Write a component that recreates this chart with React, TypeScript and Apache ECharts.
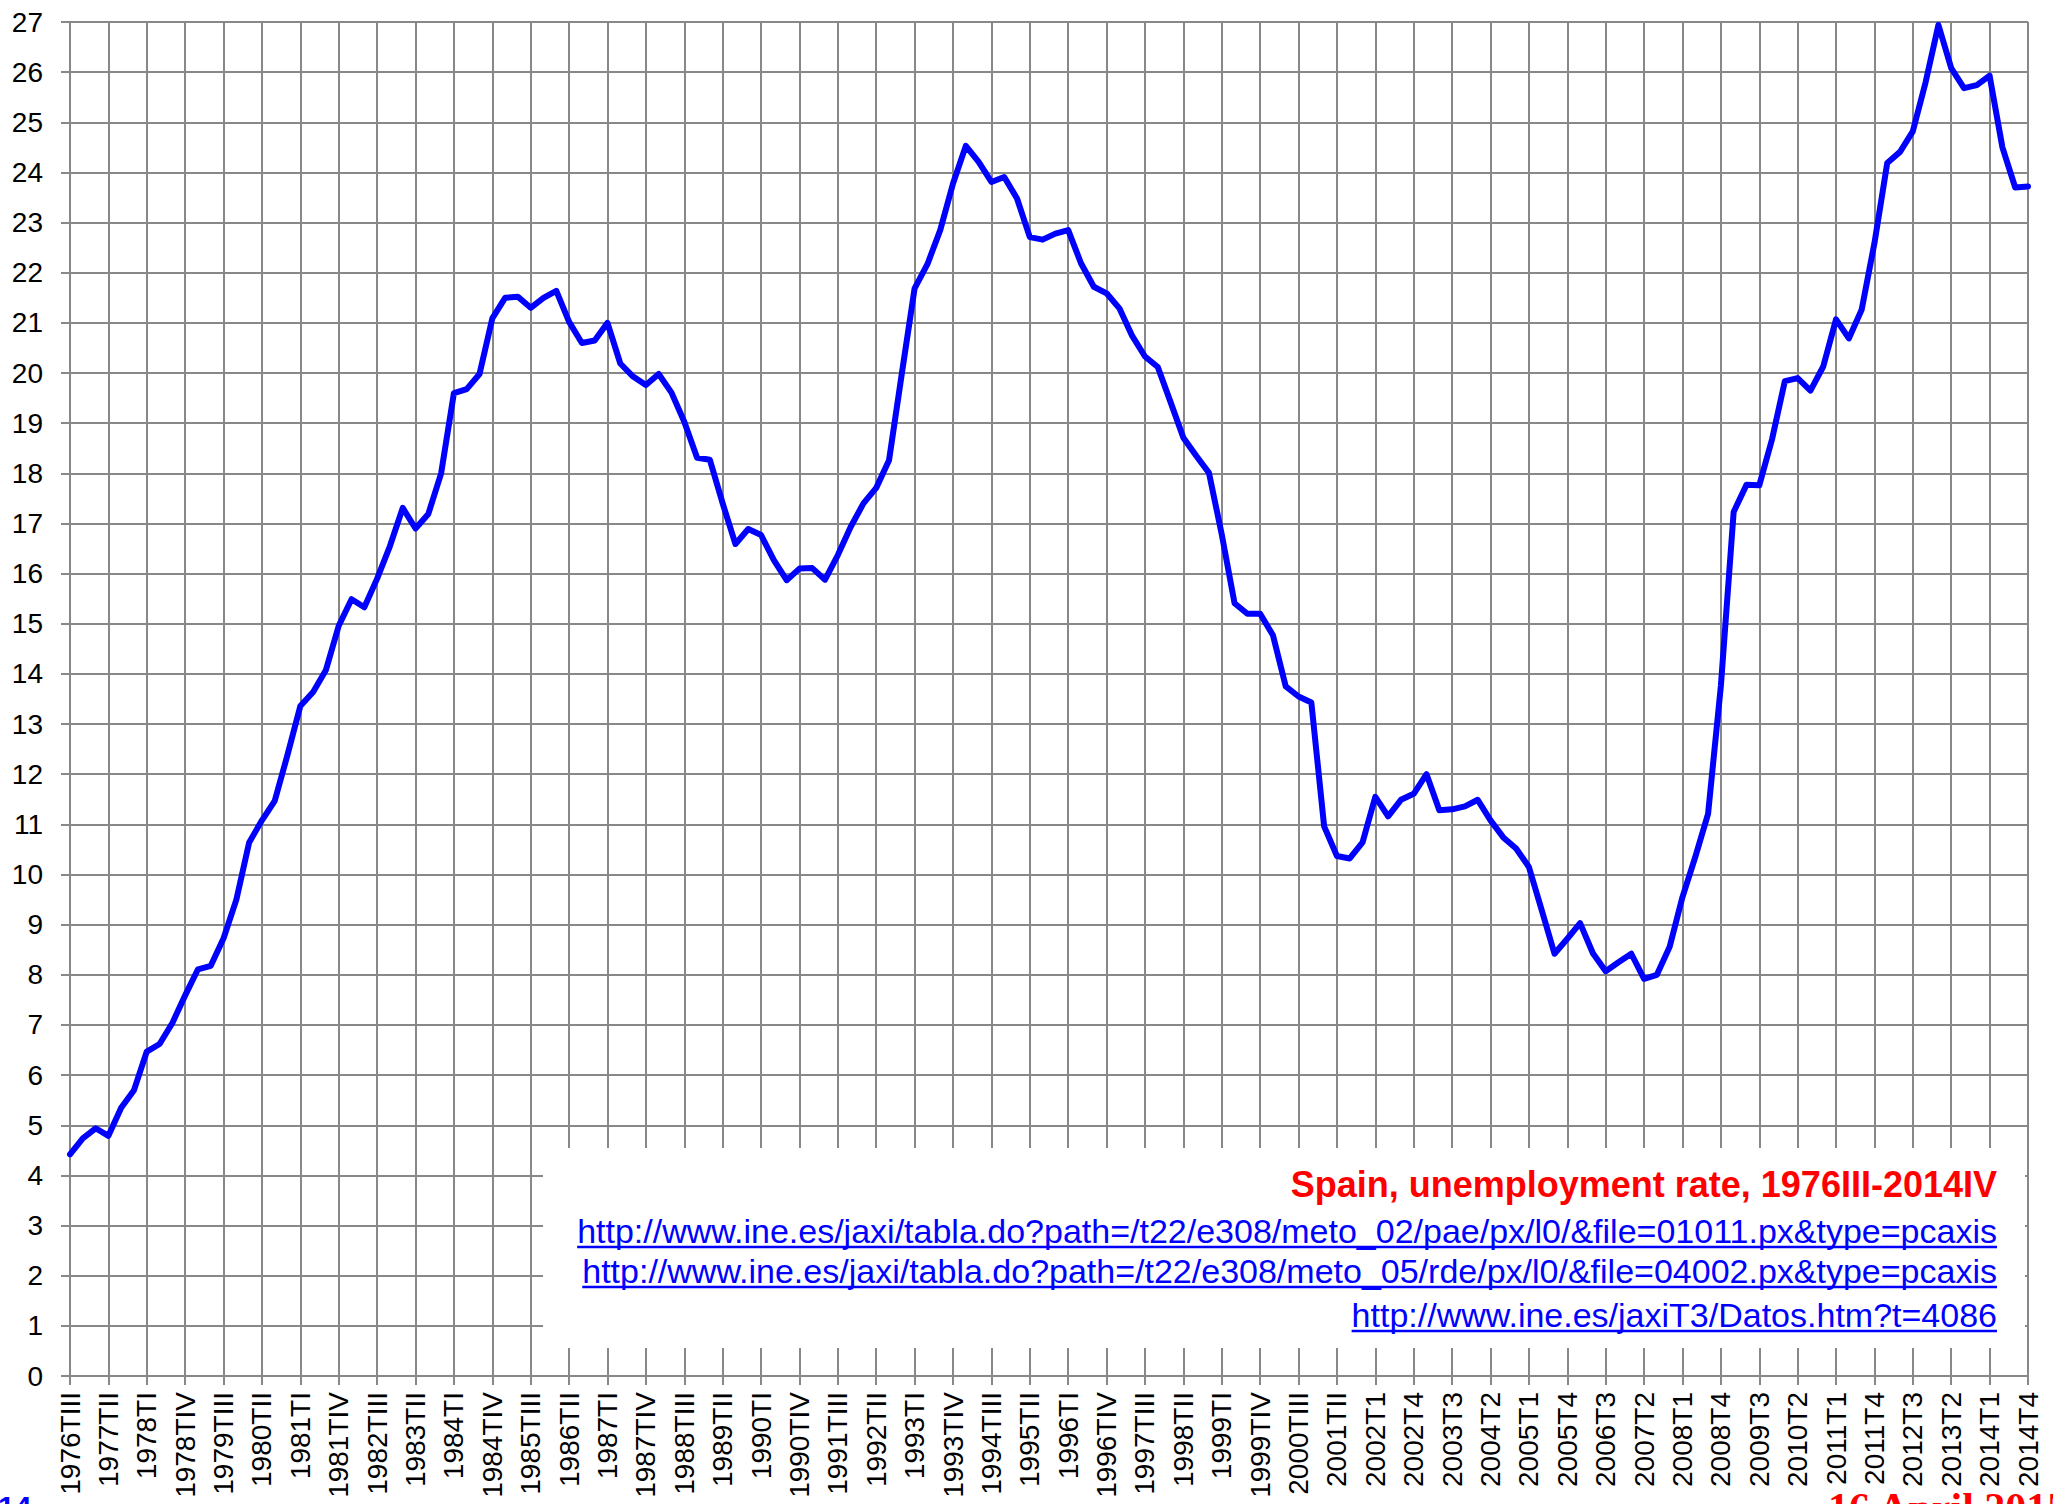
import React, { useEffect, useRef } from "react";
import * as echarts from "echarts";

// Quarterly unemployment rate (%), Spain, 1976 TIII – 2014 TIV
const firstYear = 1976;
const firstQuarter = 3;
const romanQuarters = ["I", "II", "III", "IV"];
const lastRomanYear = 2001;

const unemploymentRate: number[] = [
  // 1976 (TIII, TIV)
  4.42, 4.74,
  // 1977
  4.94, 4.79, 5.35, 5.70,
  // 1978
  6.47, 6.62, 7.04, 7.59,
  // 1979
  8.11, 8.18, 8.73, 9.50,
  // 1980
  10.64, 11.08, 11.47, 12.39,
  // 1981
  13.36, 13.64, 14.08, 14.96,
  // 1982
  15.49, 15.33, 15.90, 16.55,
  // 1983
  17.31, 16.90, 17.19, 18.00,
  // 1984
  19.60, 19.68, 19.98, 21.09,
  // 1985
  21.50, 21.52, 21.30, 21.50,
  // 1986
  21.64, 21.02, 20.60, 20.65,
  // 1987
  21.00, 20.19, 19.93, 19.76,
  // 1988
  19.98, 19.61, 19.03, 18.31,
  // 1989
  18.27, 17.40, 16.59, 16.89,
  // 1990
  16.77, 16.27, 15.87, 16.10,
  // 1991
  16.11, 15.88, 16.37, 16.93,
  // 1992
  17.40, 17.71, 18.26, 19.99,
  // 1993
  21.69, 22.17, 22.85, 23.78,
  // 1994
  24.53, 24.21, 23.81, 23.91,
  // 1995
  23.48, 22.71, 22.66, 22.78,
  // 1996
  22.85, 22.19, 21.72, 21.59,
  // 1997
  21.29, 20.74, 20.33, 20.12,
  // 1998
  19.42, 18.71, 18.35, 18.01,
  // 1999
  16.78, 15.41, 15.20, 15.20,
  // 2000
  14.77, 13.75, 13.55, 13.43,
  // 2001
  10.96, 10.37, 10.32, 10.64,
  // 2002
  11.55, 11.16, 11.49, 11.61,
  // 2003
  12.00, 11.28, 11.30, 11.36,
  // 2004
  11.49, 11.08, 10.74, 10.52,
  // 2005
  10.15, 9.29, 8.42, 8.72,
  // 2006
  9.03, 8.43, 8.07, 8.25,
  // 2007
  8.42, 7.92, 8.00, 8.56,
  // 2008
  9.55, 10.35, 11.21, 13.76,
  // 2009
  17.23, 17.77, 17.76, 18.68,
  // 2010
  19.84, 19.90, 19.65, 20.13,
  // 2011
  21.07, 20.69, 21.26, 22.59,
  // 2012
  24.19, 24.41, 24.82, 25.80,
  // 2013
  26.94, 26.08, 25.68, 25.74,
  // 2014
  25.93, 24.50, 23.70, 23.72,
];

// Category (tick) labels: Roman quarter numerals up to 2001, Arabic afterwards
const quarterLabels: string[] = unemploymentRate.map((_, i) => {
  const q0 = firstQuarter - 1 + i;
  const year = firstYear + Math.floor(q0 / 4);
  const q = q0 % 4;
  return year <= lastRomanYear ? `${year}T${romanQuarters[q]}` : `${year}T${q + 1}`;
});

const titleText = "Spain, unemployment rate, 1976III-2014IV";
const sourceLinks: string[] = [
  "http://www.ine.es/jaxi/tabla.do?path=/t22/e308/meto_02/pae/px/l0/&file=01011.px&type=pcaxis",
  "http://www.ine.es/jaxi/tabla.do?path=/t22/e308/meto_05/rde/px/l0/&file=04002.px&type=pcaxis",
  "http://www.ine.es/jaxiT3/Datos.htm?t=4086",
];
const dateText = "16 April 2015";
const pageText = "14";

const W = 2053;
const H = 1504;
const FONT = '"Liberation Sans", Arial, sans-serif';
const GRID_COLOR = "#888888";

function measure(text: string, font: string): number {
  const c = document.createElement("canvas");
  const ctx = c.getContext("2d");
  if (!ctx) return text.length * 16;
  ctx.font = font;
  return ctx.measureText(text).width;
}

export default function App() {
  const ref = useRef<HTMLDivElement>(null);

  useEffect(() => {
    if (!ref.current) return;
    const chart = echarts.init(ref.current, undefined, { renderer: "svg", width: W, height: H });

    const textRight = 1997;
    const linkFont = `34px ${FONT}`;
    const linkY = [1231, 1271, 1315];
    const underlineY = [1247, 1287, 1331];

    const linkGraphics: any[] = [];
    sourceLinks.forEach((t, i) => {
      const w = measure(t, linkFont);
      linkGraphics.push({
        type: "text",
        z: 110,
        x: textRight,
        y: linkY[i],
        style: { text: t, font: linkFont, fill: "#0000ff", align: "right", verticalAlign: "middle" },
      });
      linkGraphics.push({
        type: "line",
        z: 110,
        shape: { x1: textRight - w, y1: underlineY[i], x2: textRight, y2: underlineY[i] },
        style: { stroke: "#0000ff", lineWidth: 2.5 },
      });
    });

    chart.setOption({
      animation: false,
      backgroundColor: "#ffffff",
      grid: { left: 70, right: 25, top: 22, bottom: 128, containLabel: false },
      xAxis: {
        type: "category",
        data: quarterLabels,
        boundaryGap: false,
        axisLine: { show: true, lineStyle: { color: GRID_COLOR, width: 2 } },
        axisTick: { show: true, interval: 2, length: 9, lineStyle: { color: GRID_COLOR, width: 2 } },
        axisLabel: {
          interval: 2,
          rotate: 90,
          fontSize: 28,
          fontFamily: FONT,
          color: "#000000",
          margin: 16,
        },
        splitLine: { show: true, interval: 2, lineStyle: { color: GRID_COLOR, width: 2 } },
      },
      yAxis: {
        type: "value",
        min: 0,
        max: 27,
        interval: 1,
        axisLine: { show: true, lineStyle: { color: GRID_COLOR, width: 2 } },
        axisTick: { show: true, length: 9, lineStyle: { color: GRID_COLOR, width: 2 } },
        axisLabel: { fontSize: 28, fontFamily: FONT, color: "#000000", margin: 27 },
        splitLine: { show: true, lineStyle: { color: GRID_COLOR, width: 2 } },
      },
      series: [
        {
          type: "line",
          data: unemploymentRate,
          showSymbol: false,
          symbol: "none",
          smooth: false,
          lineStyle: { color: "#0000ff", width: 6, join: "round", cap: "round" },
          z: 5,
        },
      ],
      graphic: [
        {
          type: "rect",
          z: 100,
          shape: { x: 543, y: 1148, width: 1482, height: 200 },
          style: { fill: "#ffffff" },
        },
        {
          type: "text",
          z: 110,
          x: textRight,
          y: 1184,
          style: {
            text: titleText,
            font: `bold 36px ${FONT}`,
            fill: "#ff0000",
            align: "right",
            verticalAlign: "middle",
          },
        },
        ...linkGraphics,
        {
          type: "text",
          z: 110,
          x: 1828,
          y: 1487,
          style: {
            text: dateText,
            font: 'bold 42px "Liberation Serif", "Times New Roman", serif',
            fill: "#ff0000",
            align: "left",
            verticalAlign: "top",
          },
        },
        {
          type: "text",
          z: 110,
          x: -2,
          y: 1491,
          style: {
            text: pageText,
            font: `bold 30px ${FONT}`,
            fill: "#0000ff",
            align: "left",
            verticalAlign: "top",
          },
        },
      ],
    });

    return () => {
      chart.dispose();
    };
  }, []);

  return (
    <div
      ref={ref}
      style={{ position: "fixed", left: 0, top: 0, width: W, height: H, background: "#fff" }}
    />
  );
}
